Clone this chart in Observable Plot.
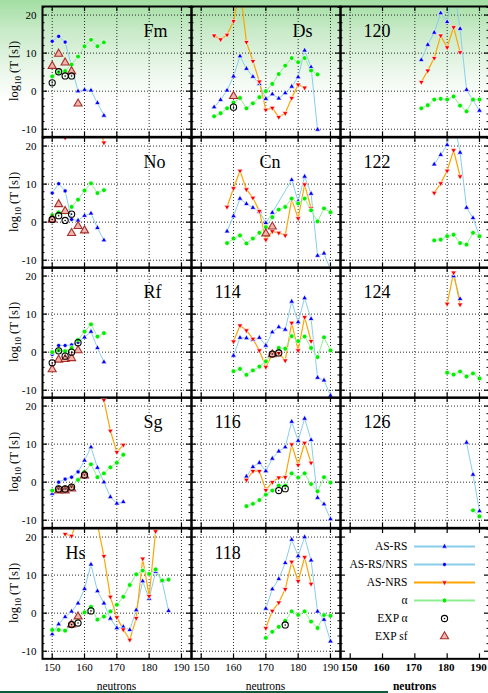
<!DOCTYPE html>
<html>
<head>
<meta charset="utf-8">
<script src="https://cdn.jsdelivr.net/npm/d3@7"></script>
<script src="https://cdn.jsdelivr.net/npm/@observablehq/plot@0.6"></script>
<style>
  html, body { margin: 0; padding: 0; background: #fff; }
  #chart {
    position: relative; width: 488px; height: 693px; overflow: hidden;
    font-family: "Liberation Serif", "Times New Roman", serif;
    background: linear-gradient(180deg, #a2dea2 0px, #c8eac8 30px, #eef8ee 75px, #ffffff 100px);
  }
  #chart svg { position: absolute; overflow: visible; }
  .ytitle { position: absolute; transform: translate(-50%, -50%) rotate(-90deg); white-space: nowrap; font-size: 12.5px; }
  .ytitle sub { font-size: 0.72em; vertical-align: -0.3em; }
  .xtitle { position: absolute; transform: translateX(-50%); font-size: 11.5px; line-height: 12px; }
  .bar { position: absolute; left: 0; top: 691px; width: 388px; height: 2px; background: #0f5a3a; }
</style>
</head>
<body>
<div id="chart"></div>
<script>
// Panels in reading order, three per row; the last cell holds the key.
const panels = ["Fm", "Ds", "120", "No", "Cn", "122", "Rf", "114", "124", "Sg", "116", "126", "Hs", "118"];
const xTicks = [150, 160, 170, 180, 190];
const yTicks = [-10, 0, 10, 20];
const yMinor = [-8, -6, -4, -2, 2, 4, 6, 8, 12, 14, 16, 18, 22];
const legendNames = ["AS-RS", "AS-RS/NRS", "AS-NRS", "α", "EXP α", "EXP sf"];

// [element, neutrons, log10 T(s)]
const asRS = [
  ["Fm",158,0],["Fm",160,0.35],["Fm",162,0.2],["Fm",164,-3.1],["Fm",166,-6.4],
  ["No",158,0.45],["No",160,1.7],["No",162,2.3],["No",164,-1.5],["No",166,-4.75],
  ["Rf",160,3.9],["Rf",162,5.4],["Rf",164,1.1],["Rf",166,-2.6],
  ["Sg",150,-3.0],["Sg",160,5.7],["Sg",162,9.2],["Sg",164,3.8],["Sg",166,0],["Sg",168,-3.9],["Sg",170,-5.6],["Sg",172,-5.2],
  ["Hs",150,-5.5],["Hs",152,-2.9],["Hs",154,-1.0],["Hs",156,0.45],["Hs",158,2.6],["Hs",160,6.4],["Hs",162,12.8],["Hs",164,5.8],
  ["Hs",166,2.6],["Hs",168,-1.4],["Hs",170,-3.9],["Hs",172,-3.6],["Hs",174,-4.4],["Hs",176,0.8],["Hs",178,8.4],["Hs",180,3.8],
  ["Hs",182,10.9],["Hs",184,8.4],["Hs",186,0.6],
  ["Ds",154,-4.2],["Ds",156,-2.3],["Ds",158,0.2],["Ds",160,3.9],["Ds",162,9.2],["Ds",164,5.9],["Ds",166,3.8],["Ds",168,1.9],
  ["Ds",170,-2.0],["Ds",172,-0.8],["Ds",174,-1.9],["Ds",176,-0.5],["Ds",178,1.2],["Ds",180,3.7],["Ds",182,10.7],["Ds",184,6.3],["Ds",186,-10.1],
  ["Cn",158,-2.4],["Cn",160,1.6],["Cn",162,6.2],["Cn",164,4.8],["Cn",166,3.8],["Cn",168,2.8],["Cn",170,-0.2],["Cn",172,2.5],
  ["Cn",178,11.1],["Cn",180,5.5],["Cn",182,12.0],["Cn",184,7.5],["Cn",186,-8.8],["Cn",188,-8.2],["Cn",190,-12.5],
  ["114",160,-0.9],["114",162,3.8],["114",164,3.7],["114",166,3.2],["114",168,3.8],["114",170,1.75],["114",172,5.25],["114",174,6.6],
  ["114",176,5.95],["114",178,13.3],["114",180,7.9],["114",182,14.2],["114",184,8.75],["114",186,-6.7],["114",188,-7.4],["114",190,-11.4],
  ["116",164,1.5],["116",166,4.0],["116",168,5.1],["116",170,2.9],["116",172,6.2],["116",174,8.1],["116",176,9.2],["116",178,15.9],
  ["116",180,10.9],["116",182,16.7],["116",184,11.1],["116",186,-4.1],["116",188,-5.8],["116",190,-9.7],
  ["118",170,1.2],["118",172,6.3],["118",174,9.0],["118",176,13.2],["118",178,19.3],["118",180,15.0],["118",182,20.0],["118",184,13.9],
  ["118",186,0.45],["118",188,-1.7],["118",190,-7.4],
  ["120",172,8.2],["120",174,12.2],["120",176,15.4],["120",178,20.5],["120",180,18.2],["120",182,28],["120",184,16.4],["120",186,0.35],
  ["120",188,-2.4],["120",190,-5.1],
  ["122",176,15.2],["122",178,17.7],["122",180,20.3],["122",182,27],["122",184,18.3],["122",186,3.8],["122",188,1.1],["122",190,-3.7],
  ["124",182,20.0],["124",184,14],
  ["126",186,10.4],["126",188,2],["126",190,-7.6]
];

const asRSNRS = [
  ["Fm",150,13.1],["Fm",152,14.4],["Fm",154,12.9],
  ["No",150,7.65],["No",152,10.1],["No",154,8.2],["No",156,0.7],
  ["Rf",150,-0.6],["Rf",152,1.75],["Rf",154,1.75],["Rf",156,1.9],["Rf",158,2.6],
  ["Sg",152,0],["Sg",154,0.8],["Sg",156,1.3],["Sg",158,2.7]
];

const asNRS = [
  ["No",154,22.2],["No",164,27],["No",166,20.9],
  ["Sg",164,28],["Sg",166,21.6],["Sg",168,13.5],["Sg",170,7.9],["Sg",172,9.8],
  ["Hs",154,20.8],["Hs",156,20.3],["Hs",158,25],["Hs",164,23.4],["Hs",166,15.0],["Hs",168,4.3],["Hs",170,-1.1],["Hs",172,-4.3],
  ["Hs",174,-7.0],["Hs",176,-1.3],["Hs",178,14.3],["Hs",180,4.5],["Hs",182,21.5],["Hs",184,30],
  ["Ds",154,14.6],["Ds",156,13.6],["Ds",158,14.8],["Ds",160,18.4],["Ds",162,27],["Ds",164,12.9],["Ds",166,7.9],["Ds",168,2.5],
  ["Ds",170,-4.9],["Ds",172,-4.4],["Ds",174,-6.8],["Ds",176,-5.8],["Ds",178,-1.8],["Ds",180,1.7],["Ds",182,0.9],
  ["Cn",158,4.0],["Cn",160,8.9],["Cn",162,13.5],["Cn",164,8.6],["Cn",166,6.4],["Cn",168,2.9],["Cn",170,-4.6],["Cn",172,-2.4],
  ["Cn",174,-2.8],["Cn",176,-3.5],["Cn",178,6.0],["Cn",180,1.0],["Cn",182,9.9],["Cn",184,3.6],
  ["114",160,2.8],["114",162,7.0],["114",164,5.7],["114",166,3.5],["114",168,0.45],["114",170,-3.9],["114",172,-0.6],["114",174,-0.25],
  ["114",176,-2.2],["114",178,7.7],["114",180,0.45],["114",182,9.2],["114",184,2.9],
  ["116",164,0.6],["116",166,2.9],["116",168,2.9],["116",170,-2.1],["116",172,0],["116",174,1.2],["116",176,1.3],["116",178,9.9],
  ["116",180,4.5],["116",182,10.3],["116",184,5.1],
  ["118",170,-3.9],["118",172,0.6],["118",174,2.8],["118",176,6.3],["118",178,13.5],["118",180,8.4],["118",182,14.7],["118",184,7.7],
  ["120",172,2.4],["120",174,5.4],["120",176,8.7],["120",178,14.6],["120",180,11.5],["120",182,16.8],["120",184,10.2],
  ["122",176,7.7],["122",178,10.2],["122",180,13.5],["122",182,18.9],["122",184,12.0],
  ["124",180,12.7],["124",182,20.9],["124",184,12.5]
];

const alpha = [
  ["Fm",150,3.9],["Fm",152,5.0],["Fm",154,5.3],["Fm",156,7.0],["Fm",158,9.1],["Fm",160,11.8],["Fm",162,13.5],["Fm",164,11.8],["Fm",166,12.8],
  ["No",150,1.85],["No",152,2.55],["No",154,2.6],["No",156,4.0],["No",158,5.9],["No",160,8.3],["No",162,10.2],["No",164,7.65],["No",166,8.4],
  ["Rf",150,0],["Rf",152,0.45],["Rf",154,0.25],["Rf",156,1.1],["Rf",158,3.2],["Rf",160,5.4],["Rf",162,7.3],["Rf",164,4.1],["Rf",166,5.0],
  ["Sg",150,-2.2],["Sg",152,-2.0],["Sg",154,-2.0],["Sg",156,-1.1],["Sg",158,0.6],["Sg",160,2.7],["Sg",162,4.7],["Sg",164,1.3],
  ["Sg",166,2.3],["Sg",168,3.9],["Sg",170,5.1],["Sg",172,7.2],
  ["Hs",150,-4.4],["Hs",152,-4.4],["Hs",154,-4.6],["Hs",156,-3.0],["Hs",158,-1.3],["Hs",160,0.2],["Hs",162,1.65],["Hs",164,-1.7],
  ["Hs",166,-0.9],["Hs",168,0.45],["Hs",170,2.2],["Hs",172,4.3],["Hs",174,7.4],["Hs",176,10.2],["Hs",178,11.2],["Hs",180,10.3],
  ["Hs",182,11.5],["Hs",184,8.6],["Hs",186,8.8],
  ["Ds",154,-6.6],["Ds",156,-5.8],["Ds",158,-4.5],["Ds",160,-3.0],["Ds",162,-1.8],["Ds",164,-4.5],["Ds",166,-3.2],["Ds",168,-1.6],
  ["Ds",170,0],["Ds",172,1.9],["Ds",174,4.5],["Ds",176,6.7],["Ds",178,8.7],["Ds",180,7.6],["Ds",182,8.7],["Ds",184,5.4],["Ds",186,4.4],
  ["Cn",158,-5.5],["Cn",160,-4.3],["Cn",162,-3.5],["Cn",164,-5.6],["Cn",166,-4.3],["Cn",168,-2.8],["Cn",170,-1.3],["Cn",172,1.3],
  ["Cn",174,3.3],["Cn",176,4.0],["Cn",178,6.2],["Cn",180,4.9],["Cn",182,6.2],["Cn",184,3.1],["Cn",186,0.2],["Cn",188,3.6],["Cn",190,2.6],
  ["114",160,-5.0],["114",162,-4.4],["114",164,-5.95],["114",166,-4.8],["114",168,-3.8],["114",170,-2.4],["114",172,-0.45],["114",174,1.1],
  ["114",176,0.9],["114",178,4.2],["114",180,2.9],["114",182,4.1],["114",184,1.1],["114",186,-1.3],["114",188,3.9],["114",190,0.45],
  ["116",164,-6.3],["116",166,-5.7],["116",168,-4.7],["116",170,-3.3],["116",172,-2.2],["116",174,-0.9],["116",176,-0.9],["116",178,2.3],
  ["116",180,1.2],["116",182,2.3],["116",184,-0.5],["116",186,-2.4],["116",188,1.3],["116",190,-0.1],
  ["118",170,-6.5],["118",172,-4.9],["118",174,-3.6],["118",176,-2.0],["118",178,0.45],["118",180,-0.45],["118",182,0.45],["118",184,-2.2],
  ["118",186,-3.9],["118",188,-0.5],["118",190,-0.7],
  ["120",172,-4.5],["120",174,-3.7],["120",176,-2.2],["120",178,-2.0],["120",180,-2.2],["120",182,-1.4],["120",184,-3.8],["120",186,-5.3],
  ["120",188,-2.2],["120",190,-2.2],
  ["122",176,-4.8],["122",178,-4.6],["122",180,-3.7],["122",182,-3.3],["122",184,-5.5],["122",186,-5.9],["122",188,-2.8],["122",190,-3.7],
  ["124",180,-5.4],["124",182,-5.9],["124",184,-5.1],["124",186,-6.4],["124",188,-5.6],["124",190,-6.9],
  ["126",188,-7.4],["126",190,-9.0]
];

const expAlpha = [
  ["Fm",150,2.2],["Fm",152,5.1],["Fm",154,4.0],["Fm",156,4.0],
  ["No",150,0.7],["No",152,1.7],["No",154,0.45],["No",156,2.1],
  ["Rf",150,-2.8],["Rf",152,0.35],["Rf",154,-1.05],["Rf",156,0],["Rf",158,2.5],
  ["Sg",152,-1.8],["Sg",154,-1.8],["Sg",156,-1.3],["Sg",160,1.9],
  ["Hs",156,-3.0],["Hs",158,-2.6],["Hs",162,0.6],
  ["Ds",160,-4.2],
  ["114",172,-0.5],["114",174,-0.2],
  ["116",174,-2.2],["116",176,-1.7],
  ["118",176,-3.1]
];

const expSf = [
  ["Fm",150,6.6],["Fm",152,9.8],["Fm",154,7.5],["Fm",156,5.2],["Fm",158,-3.3],
  ["No",150,0.7],["No",152,4.7],["No",154,2.9],["No",156,-2.9],["No",158,-1.05],["No",160,-2.2],
  ["Rf",150,-4.55],["Rf",152,-2.0],["Rf",154,-1.85],["Rf",156,-1.6],["Rf",158,0.45],
  ["Sg",152,-2.2],["Sg",154,-2.2],["Sg",156,-1.7],["Sg",160,1.7],
  ["Hs",156,-3.0],["Hs",158,-0.9],
  ["Ds",160,-1.3],
  ["Cn",170,-3.0],["Cn",172,-1.2],
  ["114",172,-0.6]
];

// ---- drawing ----
const W = 149, H = 130.34, TOP = 6.3;
const colLeft = [42, 191, 340];
const C = {
  rsLine: "#87ceeb", rsDot: "#0000ff",
  nrsLine: "#ffa500", nrsDot: "#ff0000",
  aLine: "#90ee90", aDot: "#00ee00",
  sfFill: "#f0b4ac", sfStroke: "#a8302c"
};
// downward triangle with the same geometry as d3.symbolTriangle
const triangleDown = {
  draw(context, size) {
    const s3 = Math.sqrt(3);
    const y = -Math.sqrt(size / (s3 * 3));
    context.moveTo(0, -y * 2);
    context.lineTo(-s3 * y, y);
    context.lineTo(s3 * y, y);
    context.closePath();
  }
};
// blue curve joins both AS-RS marker kinds
const blueCurve = d3.sort([...asRS, ...asRSNRS], d => d[1]);
const labelDx = {Fm: 101, Ds: 101, No: 101, Rf: 101, Sg: 101, Cn: 68};

const chart = document.getElementById("chart");
const X = d => d[1], Y = d => d[2];
const halo = {stroke: "white", strokeWidth: 0.7, clip: true};

for (let i = 0; i < 15; i++) {
  const r = Math.floor(i / 3), c = i % 3;
  const name = panels[i];
  const sel = arr => arr.filter(d => d[0] === name);
  const ml = c === 0 ? 42 : 0, mb = r === 4 ? 36 : 0;
  const marks = [];
  if (name) {
    marks.push(
      Plot.ruleX(xTicks, {x: d => d, stroke: "#111", strokeWidth: 0.9, strokeDasharray: "1,2"}),
      Plot.ruleY(yTicks, {y: d => d, stroke: "#111", strokeWidth: 0.9, strokeDasharray: "1,2"})
    );
  }
  marks.push(
    Plot.tickY(yTicks, {y: d => d, insetRight: W - 5, strokeWidth: 1.2}),
    Plot.tickY(yTicks, {y: d => d, insetLeft: W - 5, strokeWidth: 1.2}),
    Plot.tickY(yMinor, {y: d => d, insetRight: W - 2.5}),
    Plot.tickY(yMinor, {y: d => d, insetLeft: W - 2.5}),
    Plot.tickX(xTicks, {x: d => d, insetTop: H - 5, strokeWidth: 1.2}),
    Plot.tickX(xTicks, {x: d => d, insetBottom: H - 5, strokeWidth: 1.2})
  );
  if (name) {
    marks.push(
      Plot.line(sel(blueCurve), {x: X, y: Y, stroke: C.rsLine, strokeWidth: 1, clip: true}),
      Plot.line(sel(asNRS), {x: X, y: Y, stroke: C.nrsLine, strokeWidth: 1.2, clip: true}),
      Plot.line(sel(alpha), {x: X, y: Y, stroke: C.aLine, strokeWidth: 1, clip: true}),
      Plot.dot(sel(asRS), {x: X, y: Y, symbol: "triangle", r: 2.1, fill: C.rsDot, ...halo}),
      Plot.dot(sel(asRSNRS), {x: X, y: Y, r: 2.1, fill: C.rsDot, ...halo}),
      Plot.dot(sel(asNRS), {x: X, y: Y, symbol: triangleDown, r: 2.1, fill: C.nrsDot, ...halo}),
      Plot.dot(sel(alpha), {x: X, y: Y, r: 2.4, fill: C.aDot, ...halo}),
      Plot.dot(sel(expSf), {x: X, y: Y, symbol: "triangle", r: 3.0, fill: C.sfFill, stroke: C.sfStroke, strokeWidth: 1.1}),
      Plot.dot(sel(expAlpha), {x: X, y: Y, r: 3.1, fill: "none", stroke: "black", strokeWidth: 1.1}),
      Plot.dot(sel(expAlpha), {x: X, y: Y, r: 0.8, fill: "black"}),
      Plot.text([name], {frameAnchor: "top-left", dx: labelDx[name] ?? 23, dy: 30.5, lineAnchor: "bottom",
        textAnchor: "start", fontSize: 18, fontFamily: "Liberation Serif"})
    );
  }
  marks.push(Plot.frame({stroke: "black", strokeWidth: 2}));
  if (c === 0) {
    marks.push(Plot.text(yTicks, {y: d => d, text: d => String(d), frameAnchor: "left", dx: -6,
      textAnchor: "end", fontSize: 11, fontFamily: "Liberation Serif"}));
  }
  if (r === 4) {
    marks.push(Plot.text(xTicks, {x: d => d, text: d => String(d), frameAnchor: "bottom", dy: 12,
      dx: c === 2 ? -1 : 0, fontSize: 11, fontWeight: c === 2 ? "bold" : "normal", fontFamily: "Liberation Serif"}));
  }
  const svg = Plot.plot({
    width: ml + W, height: H + mb,
    marginLeft: ml, marginRight: 0, marginTop: 0, marginBottom: mb,
    x: {domain: [147, 193.1], axis: null},
    y: {domain: [-12, 22.25], axis: null},
    style: {background: "transparent", overflow: "visible", fontFamily: "Liberation Serif", color: "black"},
    marks
  });
  svg.style.left = (colLeft[c] - ml) + "px";
  svg.style.top = (TOP + r * H) + "px";
  chart.append(svg);
}

// key, placed in the empty bottom-right cell
const legend = Plot.plot({
  width: W, height: H, margin: 0,
  y: {type: "point", domain: legendNames, range: [16.5, 108.5], padding: 0, axis: null},
  style: {background: "transparent", overflow: "visible", fontFamily: "Liberation Serif", color: "black"},
  marks: [
    Plot.ruleY(["AS-RS", "AS-RS/NRS"], {y: d => d, stroke: C.rsLine, strokeWidth: 2, insetLeft: 74, insetRight: 14}),
    Plot.ruleY(["AS-NRS"], {y: d => d, stroke: C.nrsLine, strokeWidth: 2, insetLeft: 74, insetRight: 14}),
    Plot.ruleY(["α"], {y: d => d, stroke: C.aLine, strokeWidth: 2, insetLeft: 74, insetRight: 14}),
    Plot.text(legendNames, {y: d => d, frameAnchor: "left", dx: 67, textAnchor: "end", fontSize: 11.5}),
    Plot.dot(["AS-RS"], {y: d => d, frameAnchor: "left", dx: 104, symbol: "triangle", r: 2.1, fill: C.rsDot, stroke: "white", strokeWidth: 0.7}),
    Plot.dot(["AS-RS/NRS"], {y: d => d, frameAnchor: "left", dx: 104, r: 2.1, fill: C.rsDot, stroke: "white", strokeWidth: 0.7}),
    Plot.dot(["AS-NRS"], {y: d => d, frameAnchor: "left", dx: 104, symbol: triangleDown, r: 2.1, fill: C.nrsDot, stroke: "white", strokeWidth: 0.7}),
    Plot.dot(["α"], {y: d => d, frameAnchor: "left", dx: 104, r: 2.4, fill: C.aDot, stroke: "white", strokeWidth: 0.7}),
    Plot.dot(["EXP α"], {y: d => d, frameAnchor: "left", dx: 104, r: 3.1, fill: "none", stroke: "black", strokeWidth: 1.1}),
    Plot.dot(["EXP α"], {y: d => d, frameAnchor: "left", dx: 104, r: 0.8, fill: "black"}),
    Plot.dot(["EXP sf"], {y: d => d, frameAnchor: "left", dx: 104, symbol: "triangle", r: 3.0, fill: C.sfFill, stroke: C.sfStroke, strokeWidth: 1.1})
  ]
});
legend.style.left = colLeft[2] + "px";
legend.style.top = (TOP + 4 * H) + "px";
chart.append(legend);

// axis titles
for (let r = 0; r < 5; r++) {
  const t = document.createElement("div");
  t.className = "ytitle";
  t.style.left = "15px";
  t.style.top = (TOP + r * H + H / 2) + "px";
  t.innerHTML = "log<sub>10</sub> (T [s])";
  chart.append(t);
}
for (let c = 0; c < 3; c++) {
  const t = document.createElement("div");
  t.className = "xtitle";
  t.style.left = (colLeft[c] + W / 2) + "px";
  t.style.top = "680px";
  if (c === 2) t.style.fontWeight = "bold";
  t.textContent = "neutrons";
  chart.append(t);
}
const bar = document.createElement("div");
bar.className = "bar";
chart.append(bar);
</script>
</body>
</html>
